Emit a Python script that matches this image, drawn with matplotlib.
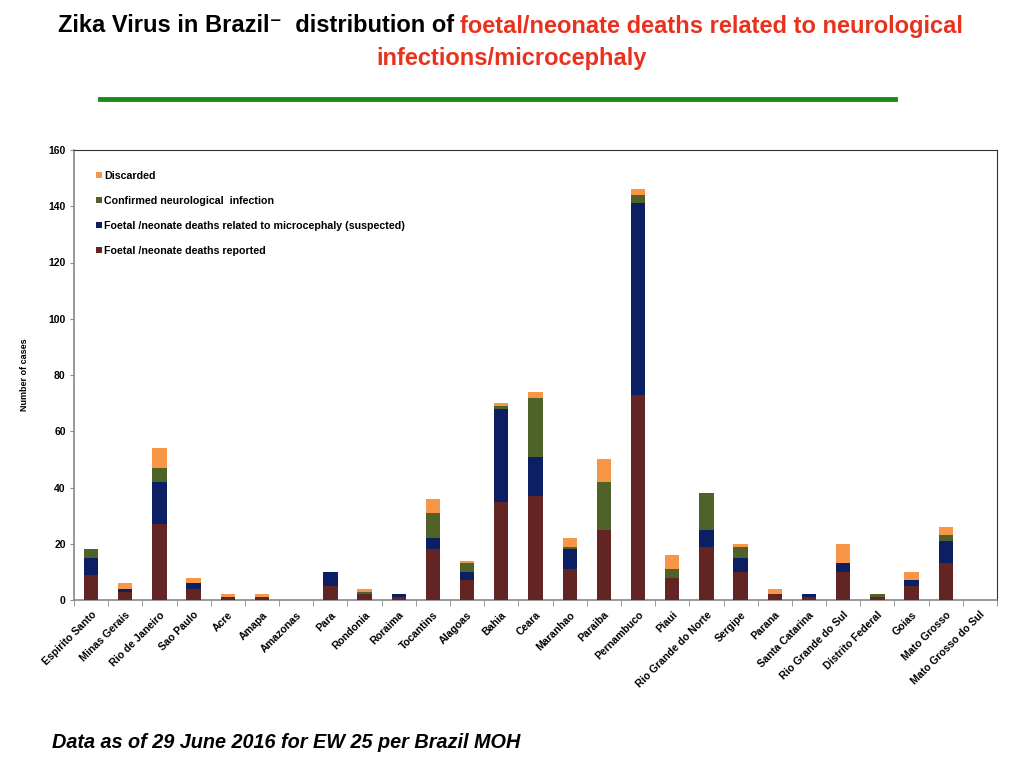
import matplotlib
matplotlib.use("Agg")
import matplotlib.pyplot as plt
import numpy as np

states = ["Espirito Santo", "Minas Gerais", "Rio de Janeiro", "Sao Paulo", "Acre", "Amapa",
          "Amazonas", "Para", "Rondonia", "Roraima", "Tocantins", "Alagoas", "Bahia", "Ceara",
          "Maranhao", "Paraiba", "Pernambuco", "Piaui", "Rio Grande do Norte", "Sergipe",
          "Parana", "Santa Catarina", "Rio Grande do Sul", "Distrito Federal", "Goias",
          "Mato Grosso", "Mato Grosso do Sul"]
reported = [9, 3, 27, 4, 1, 1, 0, 5, 2, 1, 18, 7, 35, 37, 11, 25, 73, 8, 19, 10, 2, 1, 10, 1, 5, 13, 0]
suspected = [6, 1, 15, 2, 0, 0, 0, 5, 0, 1, 4, 3, 33, 14, 7, 0, 68, 0, 6, 5, 0, 1, 3, 0, 2, 8, 0]
confirmed = [3, 0, 5, 0, 0, 0, 0, 0, 1, 0, 9, 3, 1, 21, 1, 17, 3, 3, 13, 4, 0, 0, 0, 1, 0, 2, 0]
discarded = [0, 2, 7, 2, 1, 1, 0, 0, 1, 0, 5, 1, 1, 2, 3, 8, 2, 5, 0, 1, 2, 0, 7, 0, 3, 3, 0]

series_names = ["Foetal /neonate deaths reported",
                "Foetal /neonate deaths related to microcephaly (suspected)",
                "Confirmed neurological  infection",
                "Discarded"]
colors = ["#632523", "#0B1F62", "#4F6228", "#F79646"]

plt.rcParams['font.family'] = ['Liberation Sans', 'DejaVu Sans']

fig = plt.figure(figsize=(10.24, 7.68), dpi=100)
ax = fig.add_axes([74/1024, 1-600/768, (997-74)/1024, 450/768])

x = np.arange(len(states))
bottom = np.zeros(len(states))
handles = []
for vals, name, col in zip([reported, suspected, confirmed, discarded], series_names, colors):
    v = np.array(vals, dtype=float)
    b = ax.bar(x, v, width=0.42, bottom=bottom, color=col, label=name, zorder=3)
    handles.append(b)
    bottom += v

ax.set_xlim(-0.5, len(states) - 0.5)
ax.set_ylim(0, 160)
ax.set_yticks(np.arange(0, 161, 20))
ax.set_yticklabels([str(v) for v in range(0, 161, 20)], fontsize=7.5, fontweight='bold')
ax.set_xticks(x)
ax.set_xticklabels(states, rotation=45, ha='right', rotation_mode='anchor',
                   fontsize=7.6, fontweight='bold')
ax.tick_params(axis='x', length=0, pad=7)
ax.set_xticks(np.arange(-0.5, len(states), 1), minor=True)
ax.tick_params(axis='x', which='minor', length=4, color='#888888', direction='out')
ax.tick_params(axis='y', length=3, color='#888888', direction='out', pad=3)
for s in ['left', 'bottom']:
    ax.spines[s].set_color('#888888')
    ax.spines[s].set_linewidth(1.2)
for s in ['top', 'right']:
    ax.spines[s].set_color('#333333')
    ax.spines[s].set_linewidth(0.8)

ax.set_ylabel("Number of cases", fontsize=6.5, fontweight='bold', labelpad=14)

leg = ax.legend(handles[::-1], series_names[::-1], loc='upper left',
                bbox_to_anchor=(0.013, 0.975), frameon=False,
                prop={'size': 7.7, 'weight': 'bold'}, handlelength=0.55, handleheight=0.55,
                handletextpad=0.25, labelspacing=1.4)

# Title
fig.text(454/1024, 1-26/768, "Zika Virus in Brazil\u207b  distribution of", ha='right', va='center',
         fontsize=17, fontweight='bold', color='black')
fig.text(460/1024, 1-26/768, "foetal/neonate deaths related to neurological", ha='left', va='center',
         fontsize=17, fontweight='bold', color='#E8321E')
fig.text(512/1024, 1-58/768, "infections/microcephaly", ha='center', va='center',
         fontsize=17, fontweight='bold', color='#E8321E')
fig.add_artist(plt.Line2D([100/1024, 895/1024], [1-99/768, 1-99/768], color='#1A8A1A',
                          linewidth=3.5, transform=fig.transFigure))

fig.text(52/1024, 1-743/768, "Data as of 29 June 2016 for EW 25 per Brazil MOH", ha='left', va='center',
         fontsize=14.3, fontweight='bold', fontstyle='italic', color='black')

fig.savefig("out.png", dpi=100)
